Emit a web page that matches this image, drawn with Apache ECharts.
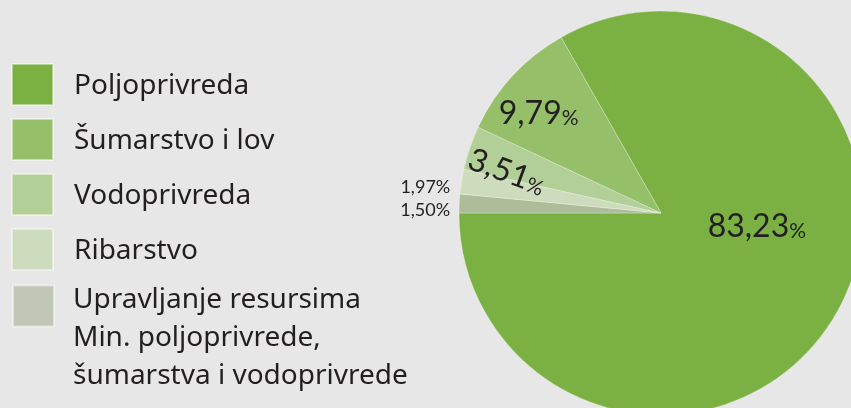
<!DOCTYPE html>
<html>
<head>
<meta charset="utf-8">
<style>
  html, body { margin: 0; padding: 0; background: #e7e7e7; }
  #chart { width: 851px; height: 408px; }
</style>
<script src="https://cdn.jsdelivr.net/npm/echarts@6/dist/echarts.min.js"></script>
</head>
<body>
<div id="chart"></div>
<script>
// Shares of the budget by sector (%)
const sectors = [
  'Poljoprivreda',
  'Šumarstvo i lov',
  'Vodoprivreda',
  'Ribarstvo',
  'Upravljanje resursima\nMin. poljoprivrede,\nšumarstva i vodoprivrede'
];
const shares = [83.23, 9.79, 3.51, 1.97, 1.50];

// Slice order on the pie, clockwise from the top edge of the big slice
const pieOrder = [0, 4, 3, 2, 1];

const sliceColors = ['#7bb143', '#96bf69', '#b2cf98', '#cddcbd', '#adbd9a'];
const legendColors = ['#7bb143', '#96bf69', '#b2cf98', '#cddcbd', '#c0c8b5'];

// label nudges (dx, dy, align) per sector
const labelShift = [
  { dx: 6,    dy: -39, align: 'center' },
  { dx: -46,  dy: -29, align: 'center' },
  { dx: -55,  dy: 12,  align: 'center' },
  { dx: -108, dy: -10, align: 'right' },
  { dx: -107, dy: 2,   align: 'right' }
];

const fmt = v => v.toFixed(2).replace('.', ',');

const textColor = '#231f20';
const legendFont = 'Noto Sans';
const labelFont = 'Lato';

const chart = echarts.init(document.getElementById('chart'), null, { renderer: 'canvas' });

const pieData = pieOrder.map(i => {
  const small = shares[i] < 2.5;
  const item = {
    name: sectors[i],
    value: shares[i],
    itemStyle: { color: sliceColors[i] },
    label: {
      formatter: small ? '{s|' + fmt(shares[i]) + '%}' : '{n|' + fmt(shares[i]) + '}{p|%}'
    }
  };
  if (i === 2) item.label.rotate = -20;
  return item;
});

const startAngle = 180 + shares[0] * 3.6;

chart.setOption({
  backgroundColor: '#e7e7e7',
  animation: false,
  legend: [
    {
      data: [0, 1, 2, 3].map(i => ({
        name: sectors[i],
        itemStyle: { color: legendColors[i] }
      })),
      orient: 'vertical',
      left: 11,
      top: 63,
      padding: 0,
      itemWidth: 41,
      itemHeight: 41,
      itemGap: 12,
      icon: 'rect',
      selectedMode: false,
      formatter: name => '{t|' + name + '}',
      textStyle: {
        fontFamily: legendFont,
        fontSize: 28,
        lineHeight: 38,
        color: textColor,
        padding: [0, 0, 0, 16],
        rich: {
          t: { fontFamily: legendFont, fontSize: 28, lineHeight: 38, color: textColor, padding: [4, 0, 0, 0] }
        }
      }
    },
    {
      data: [{
        name: sectors[4],
        itemStyle: { color: legendColors[4] }
      }],
      orient: 'vertical',
      left: 12,
      top: 217,
      padding: 0,
      itemWidth: 41,
      itemHeight: 41,
      icon: 'rect',
      selectedMode: false,
      // blank lead line keeps the swatch beside the first text line
      formatter: name => '{g| }\n' + name,
      textStyle: {
        fontFamily: legendFont,
        fontSize: 28,
        lineHeight: 38,
        color: textColor,
        padding: [0, 0, 0, 14],
        rich: {
          g: { fontSize: 10, lineHeight: 64 }
        }
      }
    }
  ],
  series: [{
    type: 'pie',
    center: [661, 213],
    radius: [0, 202],
    startAngle: startAngle,
    clockwise: true,
    avoidLabelOverlap: false,
    emphasis: { disabled: true },
    itemStyle: {
      borderColor: 'rgba(255,255,255,0.45)',
      borderWidth: 0.6
    },
    label: {
      show: true,
      position: 'inside',
      color: textColor,
      fontFamily: labelFont,
      rich: {
        n: { fontFamily: labelFont, fontSize: 32, color: textColor, verticalAlign: 'bottom' },
        p: { fontFamily: labelFont, fontSize: 21, color: textColor, verticalAlign: 'bottom', padding: [0, 0, 1, 0] },
        s: { fontFamily: labelFont, fontSize: 18, color: textColor }
      }
    },
    labelLine: { show: false },
    labelLayout: function (params) {
      const s = labelShift[pieOrder[params.dataIndex]];
      return { dx: s.dx, dy: s.dy, align: s.align };
    },
    data: pieData
  }]
});
</script>
</body>
</html>
